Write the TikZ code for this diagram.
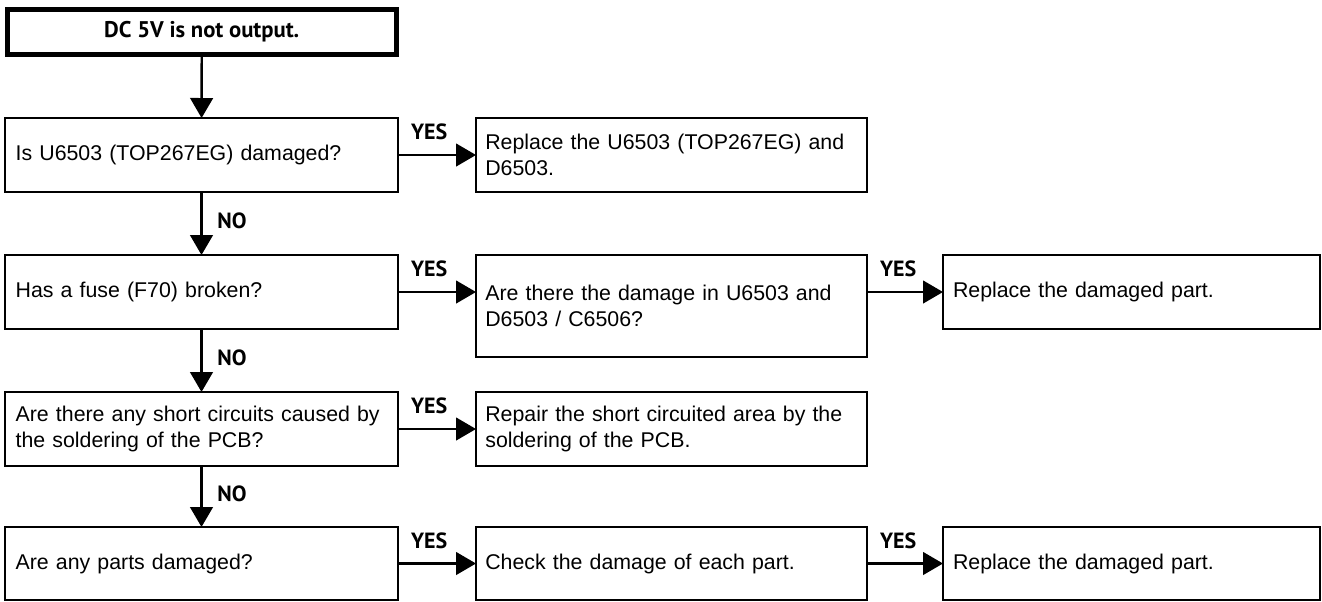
\documentclass[tikz,border=0pt]{standalone}
\usepackage{fontspec}
\setmainfont{Liberation Sans}
\newfontfamily\labfont{PT Sans}
\usetikzlibrary{arrows.meta}

\tikzset{
    box/.style={draw, line width=1.1pt, anchor=north west, outer sep=0pt, inner ysep=0pt,
        align=left, font=\fontsize{16}{19}\selectfont},
    lcol/.style={box, inner xsep=8pt, minimum width=294.75pt, text width=278.75pt, minimum height=55.5pt},
    mcol/.style={box, inner xsep=7pt, minimum width=293.25pt, text width=279.25pt, minimum height=55.5pt},
    rcol/.style={box, inner xsep=7.5pt, minimum width=282.75pt, text width=267.75pt, minimum height=55.5pt},
    startbox/.style={box, line width=3.75pt, align=center, minimum width=291.4pt, minimum height=33.75pt,
        font=\labfont\bfseries\fontsize{17}{19}\selectfont},
    flow/.style={line width=1.8pt, -{Triangle[width=17pt,length=15pt]}},
    lab/.style={font=\labfont\bfseries\fontsize{16.5}{16}\selectfont, inner sep=0pt},
    yeslab/.style={lab, pos=0, anchor=south west, shift={(9pt,10.5pt)}},
    nolab/.style={lab, pos=0.45, anchor=west, xshift=11pt},
}

\begin{document}
\begin{tikzpicture}[x=0.75pt, y=-0.75pt]
    \useasboundingbox (0,0) rectangle (1322,601);

    \node[startbox] (start) at (7.5,9.5) {DC 5V is not output.};

    \node[lcol] (q1) at (5,118) {Is U6503 (TOP267EG) damaged?};
    \node[mcol] (a1) at (476,118) {Replace the U6503 (TOP267EG) and\\D6503.};

    \node[lcol] (q2) at (5,255) {Has a fuse (F70) broken?};
    \node[mcol, minimum height=76.5pt] (q2b) at (476,255) {Are there the damage in U6503 and\\D6503 / C6506?};
    \node[rcol] (a2) at (943,255) {Replace the damaged part.};

    \node[lcol] (q3) at (5,392) {Are there any short circuits caused by\\the soldering of the PCB?};
    \node[mcol] (a3) at (476,392) {Repair the short circuited area by the\\soldering of the PCB.};

    \node[lcol, minimum height=54.75pt] (q4) at (5,527) {Are any parts damaged?};
    \node[mcol, minimum height=54.75pt] (a4) at (476,527) {Check the damage of each part.};
    \node[rcol, minimum height=54.75pt] (a5) at (943,527) {Replace the damaged part.};

    \draw[flow] (start) -- (q1);
    \foreach \a/\b in {q1/q2, q2/q3, q3/q4} {
        \draw[flow] (\a) -- node[nolab] {NO} (\b);
    }

    \foreach \a/\b in {q1/a1, q3/a3, q4/a4, a4/a5} {
        \draw[flow] (\a) -- node[yeslab] {YES} (\b);
    }
    \draw[flow] (q2.east) -- node[yeslab] {YES} (q2.east -| q2b.west);
    \draw[flow] (a2.west -| q2b.east) -- node[yeslab] {YES} (a2.west);
\end{tikzpicture}
\end{document}
